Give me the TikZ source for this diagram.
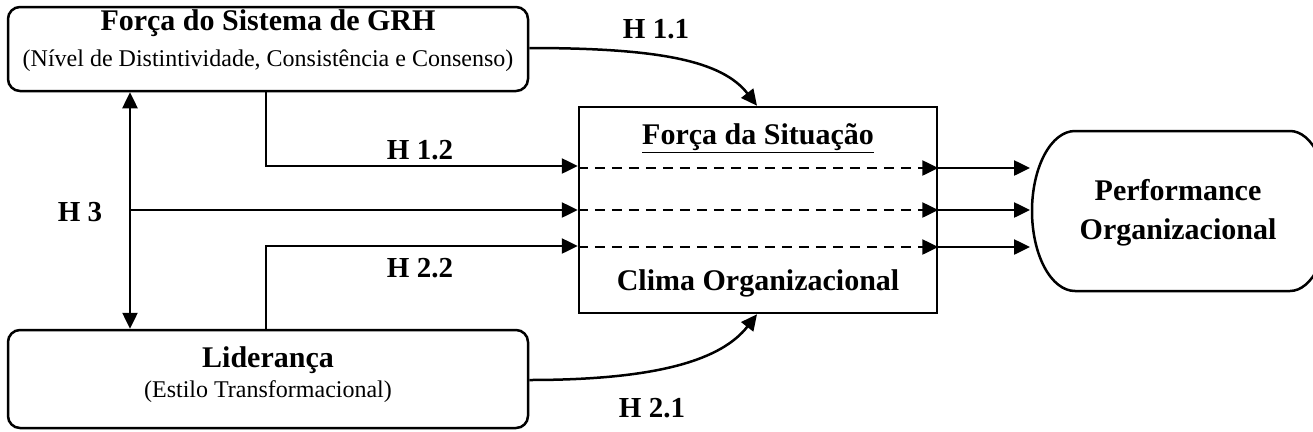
\documentclass[tikz,border=0pt]{standalone}
\usepackage{fontspec}
\setmainfont{Liberation Serif}
\usetikzlibrary{arrows.meta}
\begin{document}
\begin{tikzpicture}[x=1pt,y=-1pt,
  lw/.style={line width=2.5pt},
  tip/.style={-{Triangle[length=16pt,width=15pt]}},
  dtip/.style={{Triangle[length=16pt,width=15pt]}-{Triangle[length=16pt,width=15pt]}},
  rbox/.style={draw,lw,rounded corners=12pt,inner sep=0pt},
  big/.style={font=\fontsize{30}{32}\selectfont\bfseries,inner sep=0pt},
  small/.style={font=\fontsize{24}{26}\selectfont,inner sep=0pt},
  hlab/.style={font=\fontsize{29}{31}\selectfont\bfseries,inner sep=0pt}]
\useasboundingbox (0,0) rectangle (1313,431);
\fill[white] (0,0) rectangle (1313,431);
% boxes
\node[rbox,minimum width=520pt,minimum height=84pt] (grh) at (268,49) {};
\node[big] (grht) at (268,23) {Força do Sistema de GRH};
\node[small] (grhs) at (268,61) {(Nível de Distintividade, Consistência e Consenso)};
\node[rbox,minimum width=520pt,minimum height=98pt] (lid) at (268,379) {};
\node[big] (lidt) at (268,360) {Liderança};
\node[small] (lids) at (268,392) {(Estilo Transformacional)};
\node[draw,lw,minimum width=358pt,minimum height=206pt,inner sep=0pt] (sit) at (758,210) {};
\node[big] (sitt) at (758,138) {\underline{Força da Situação}};
\node[big] (clima) at (758,283) {Clima Organizacional};
\node[big,align=center,minimum width=290pt,font=\fontsize{30}{39}\selectfont\bfseries] (perf) at (1178,213) {Performance\\Organizacional};
\begin{scope}
\clip (0,0) rectangle (1313,431);
\draw[lw] (1075,131) -- (1290,131) arc[start angle=-90,end angle=90,x radius=40,y radius=80]
  -- (1075,291) arc[start angle=90,end angle=270,x radius=43,y radius=80] -- cycle;
\end{scope}
% coordinates
\coordinate (v1) at (266,166);
\coordinate (v2) at (266,246);
\coordinate (h3) at (130,210);
% H1.2 and H2.2
\draw[lw,tip] (grh.south -| v1) -- (v1) -- (sit.west |- v1);
\draw[lw,tip] (lid.north -| v2) -- (v2) -- (sit.west |- v2);
% H3
\draw[lw,dtip] (grh.south -| h3) -- (lid.north -| h3);
\draw[lw,tip] (h3) -- (sit.west |- h3);
% dashed
\foreach \y in {168,210,247}{
  \draw[lw,dash pattern=on 10pt off 7pt,tip] (sit.west |- 0,\y) -- (sit.east |- 0,\y);
  \draw[lw,tip] (sit.east |- 0,\y) -- (1030,\y);
}
% curves
\draw[lw,tip] (grh.east |- 0,48) .. controls +(130,0) and +(-35,-45) .. (sit.north -| 757,0);
\draw[lw,tip] (lid.east |- 0,380) .. controls +(130,0) and +(-35,45) .. (sit.south -| 757,0);
% labels
\node[hlab] (l11) at (656,29) {H 1.1};
\node[hlab] (l12) at (420,150) {H 1.2};
\node[hlab] (l3) at (80,212) {H 3};
\node[hlab] (l22) at (420,268) {H 2.2};
\node[hlab] (l21) at (652,408) {H 2.1};
\end{tikzpicture}
\end{document}
